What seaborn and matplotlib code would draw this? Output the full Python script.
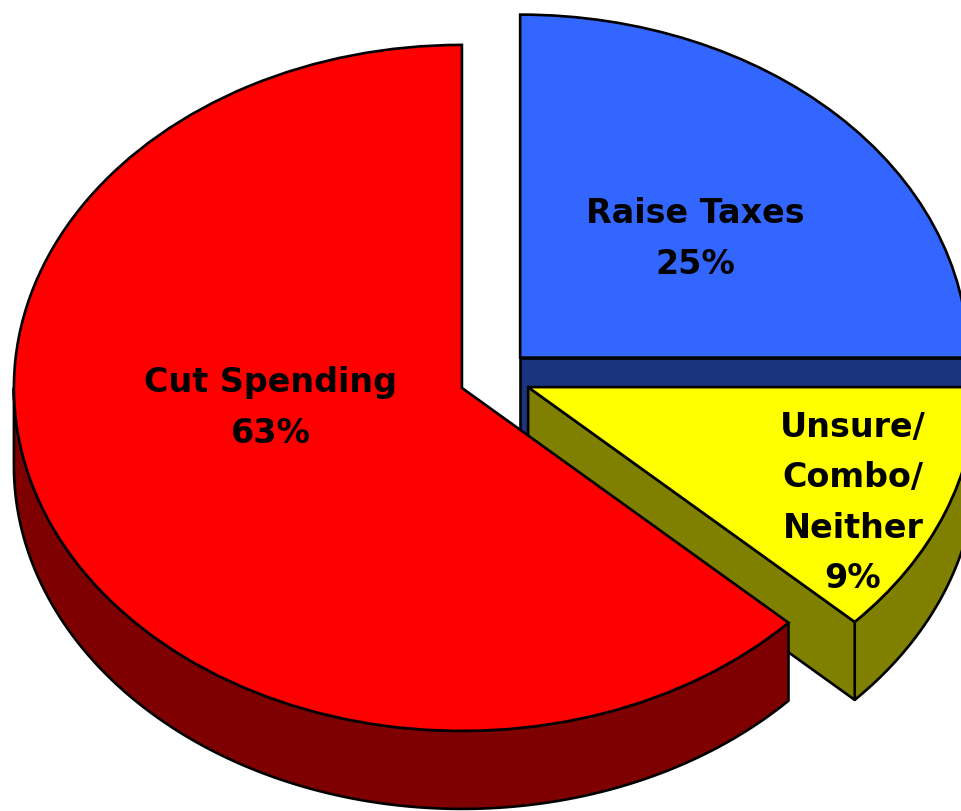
import numpy as np
import matplotlib
matplotlib.use("Agg")
import matplotlib.pyplot as plt
import seaborn as sns

# slices, counter-clockwise from 12 o'clock
categories = ['Cut Spending', 'Unsure/\nCombo/\nNeither', 'Raise Taxes']
shares = [63, 12, 25]          # slice size as drawn in the chart
printed_pct = [63, 9, 25]      # percentages printed on the labels
top_colors = ['#FF0000', '#FFFF00', '#3366FF']
side_colors = ['#7F0000', '#808000', '#1A347E']

sns.set_style("white")

# pixel geometry of the tilted pie
W, H = 961, 811
CX, CY = 494.8, 377.0
RX, RY = 448.0, 343.0
DEPTH = 78.0 / RY


def to_data(px, py):
    return (px - CX) / RX, (CY - py) / RY


fig = plt.figure(figsize=(W / 100, H / 100), dpi=100)
ax = fig.add_axes([0, 0, 1, 1])

wedges, _ = ax.pie(shares, explode=[0.08] * 3, startangle=90, counterclock=True,
                   colors=top_colors, radius=1, center=(0, 0), frame=True,
                   wedgeprops=dict(edgecolor='black', linewidth=1.9))

# painter's order: blue at the back, then yellow, then red in front
draw_order = {2: 0, 1: 1, 0: 2}
for i, w in enumerate(wedges):
    z = 2 * draw_order[i] + 1
    cx, cy = w.center
    t1, t2 = w.theta1, w.theta2
    side = dict(facecolor=side_colors[i], edgecolor='black', linewidth=1.9,
                zorder=z, joinstyle='round')
    # front part of the rim
    for lo, hi in [(180, 360), (540, 720)]:
        a, b = max(t1, lo), min(t2, hi)
        if b - a > 0.1:
            t = np.radians(np.linspace(a, b, 200))
            xs = np.concatenate([cx + np.cos(t), cx + np.cos(t[::-1])])
            ys = np.concatenate([cy + np.sin(t), cy + np.sin(t[::-1]) - DEPTH])
            ax.fill(xs, ys, **side)
    # cut faces turned toward the viewer
    for ang, normal in [(t1, t1 - 90), (t2, t2 + 90)]:
        if np.sin(np.radians(normal)) < -0.01:
            ex = cx + np.cos(np.radians(ang))
            ey = cy + np.sin(np.radians(ang))
            ax.fill([cx, ex, ex, cx], [cy, ey, ey - DEPTH, cy - DEPTH], **side)
    w.set_zorder(z + 1)

label_px = [(271, 408), (853, 503), (695, 239)]
for name, pct, (px, py) in zip(categories, printed_pct, label_px):
    x, y = to_data(px, py)
    ax.text(x, y, f'{name}\n{pct}%', ha='center', va='center', fontsize=24,
            fontweight='bold', family='DejaVu Sans', color='black',
            linespacing=1.66, zorder=10)

ax.set_aspect('auto')
ax.set_xlim(to_data(0, 0)[0], to_data(W, 0)[0])
ax.set_ylim(to_data(0, H)[1], to_data(0, 0)[1])
ax.axis('off')

fig.savefig('out.png', dpi=100)
